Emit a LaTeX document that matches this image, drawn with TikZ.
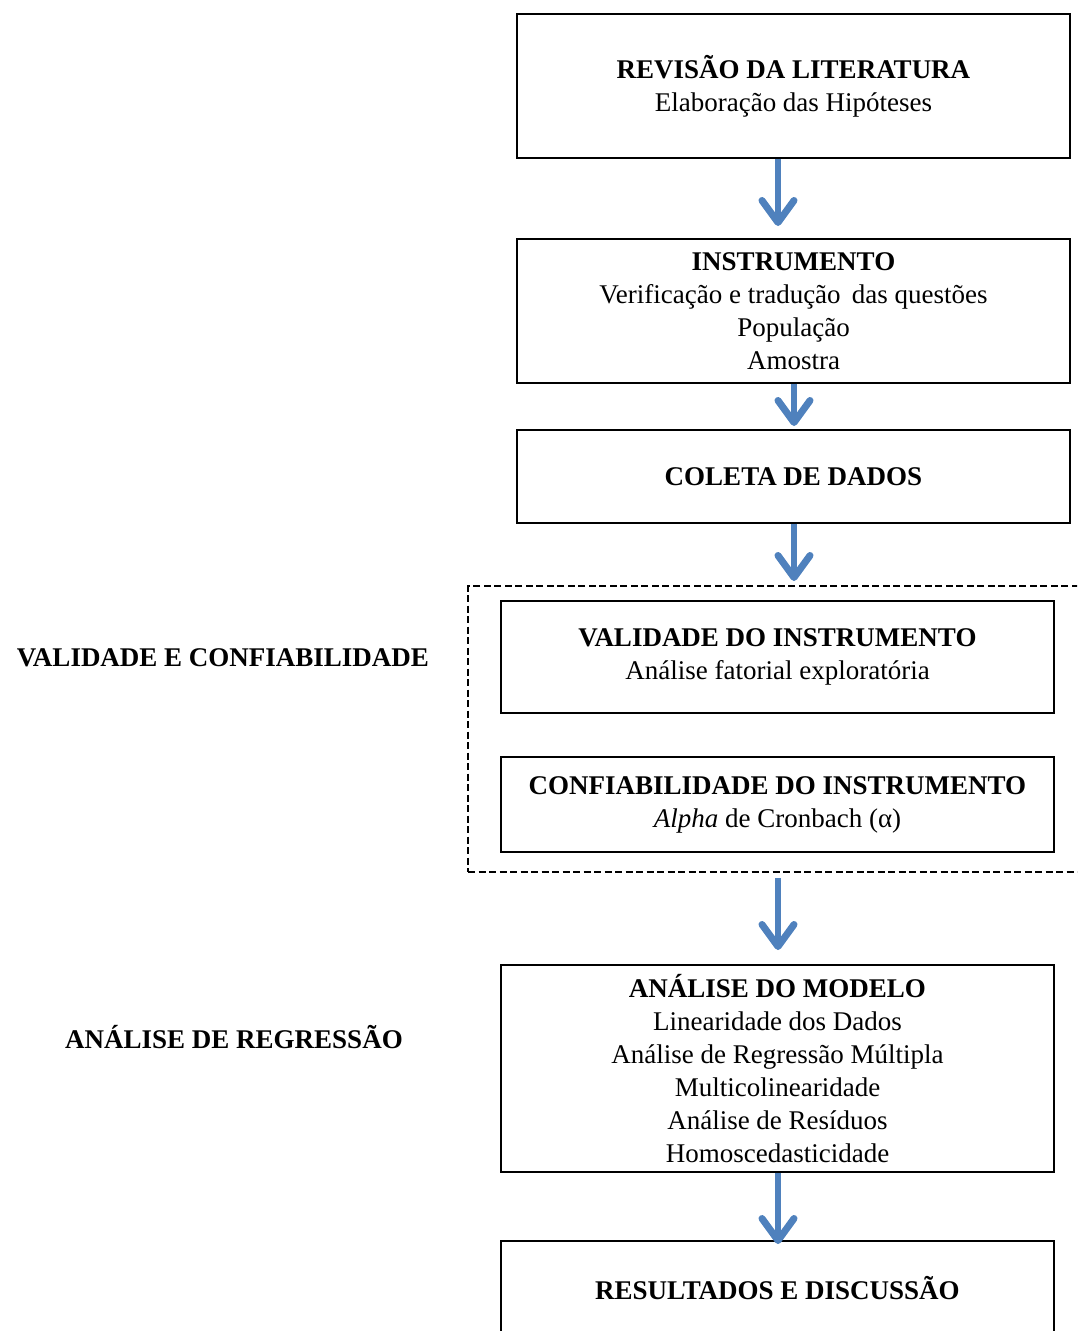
\documentclass[tikz,border=0pt]{standalone}
\usepackage{fontspec}
\setmainfont{Liberation Serif}
\usetikzlibrary{arrows.meta}
\definecolor{flowblue}{RGB}{79,129,189}
\tikzset{
  stagebox/.style={draw=black, line width=1.6pt, minimum width=553pt, align=center,
    inner sep=0pt, font=\fontsize{27}{33}\selectfont},
  sidelabel/.style={font=\fontsize{27}{33}\selectfont\bfseries, inner sep=0pt},
  flow/.style={draw=flowblue, line width=5.5pt,
    -{Straight Barb[length=22pt, width=32pt, line width=7pt, line cap=round, line join=round]}},
}
\begin{document}
\begin{tikzpicture}[x=1pt, y=-1pt]
\useasboundingbox (0,0) rectangle (1077,1331);
\clip (0,0) rectangle (1077,1331);

% main stages
\node[stagebox, minimum height=144pt] (lit) at (793.5,86)
  {\textbf{REVISÃO DA LITERATURA}\\Elaboração das Hipóteses};
\node[stagebox, minimum height=144pt] (inst) at (793.5,311)
  {\textbf{INSTRUMENTO}\\Verificação e tradução\, das questões\\População\\Amostra};
\node[stagebox, minimum height=93pt] (coleta) at (793.5,476.5)
  {\textbf{COLETA DE DADOS}};

% validity and reliability group
\node[draw=black, dash pattern=on 7pt off 3.5pt, line width=2pt, minimum width=640pt, minimum height=286pt,
  anchor=north west, inner sep=0pt] (grupo) at (467,585) {};
\node[stagebox, minimum height=112pt] (valid) at (777.5,657)
  {\textbf{VALIDADE DO INSTRUMENTO}\\Análise fatorial exploratória};
\node[stagebox, minimum height=95pt] (conf) at (777.5,804.5)
  {\textbf{CONFIABILIDADE DO INSTRUMENTO}\\\textit{Alpha} de Cronbach (α)};

\node[stagebox, minimum height=207pt] (modelo) at (777.5,1068.5)
  {\textbf{ANÁLISE DO MODELO}\\Linearidade dos Dados\\Análise de Regressão Múltipla\\Multicolinearidade\\Análise de Resíduos\\Homoscedasticidade};
\node[stagebox, minimum height=94pt] (result) at (777.5,1288)
  {\textbf{RESULTADOS E DISCUSSÃO}};

% side labels
\node[sidelabel] (lblvc) at (223,658) {VALIDADE E CONFIABILIDADE};
\node[sidelabel] (lblar) at (234,1037) {ANÁLISE DE REGRESSÃO};

% arrows between stages
\coordinate (a1s) at (lit.south -| 778,0);
\coordinate (a1e) at (778,226);
\coordinate (a2s) at (inst.south -| 794,0);
\coordinate (a2e) at (794,426);
\coordinate (a3s) at (coleta.south -| 794,0);
\coordinate (a3e) at (794,581);
\coordinate (a4s) at (778,878);
\coordinate (a4e) at (778,950);
\coordinate (a5s) at (modelo.south -| 778,0);
\coordinate (a5e) at (778,1244);
\draw[flow] (a1s) -- (a1e);
\draw[flow] (a2s) -- (a2e);
\draw[flow] (a3s) -- (a3e);
\draw[flow] (a4s) -- (a4e);
\draw[flow] (a5s) -- (a5e);
\end{tikzpicture}
\end{document}
